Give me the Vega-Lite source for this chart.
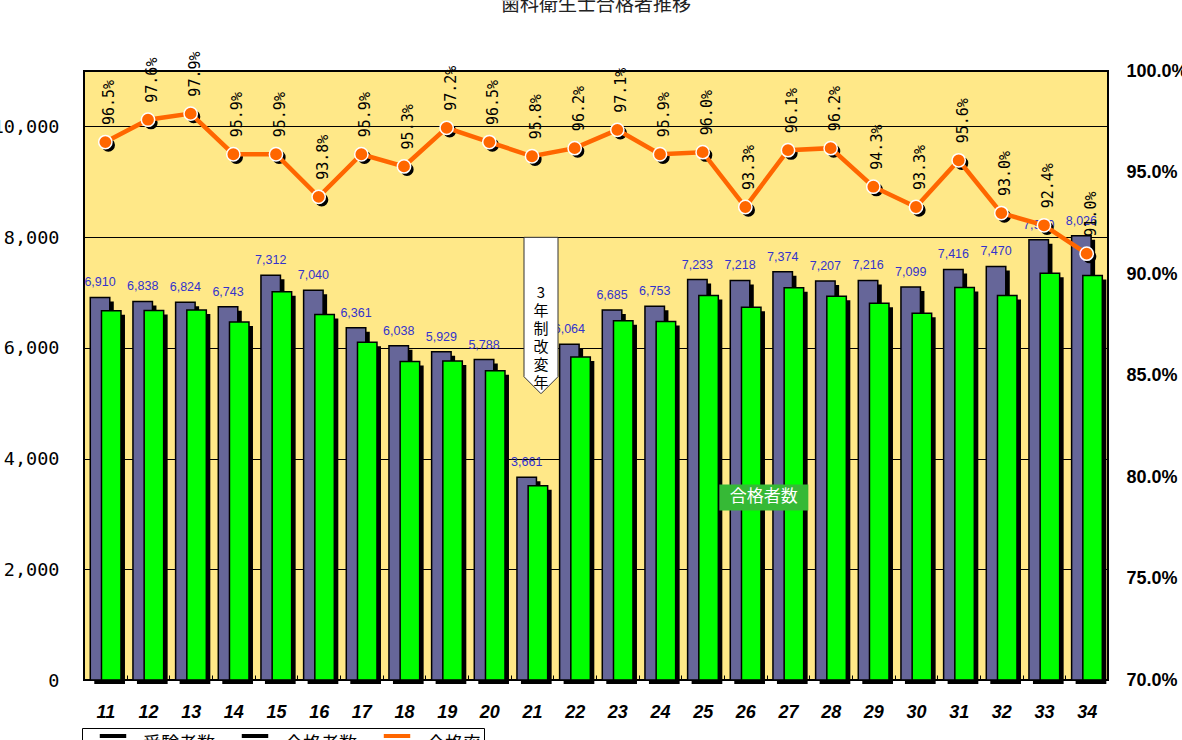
{
  "$schema": "https://vega.github.io/schema/vega-lite/v6.json",
  "width": 1024,
  "height": 609,
  "autosize": {"type": "none"},
  "padding": {"left": 84, "top": 71, "right": 74, "bottom": 60},
  "background": "white",
  "title": {
    "text": "歯科衛生士合格者推移",
    "font": "Noto Sans CJK JP",
    "fontSize": 19,
    "fontWeight": "normal",
    "color": "#222222",
    "anchor": "middle",
    "frame": "group",
    "offset": 36
  },
  "datasets": {
    "exams": [
      {"year": "11", "exam": 6910, "pass": 6668, "rate": 0.965},
      {"year": "12", "exam": 6838, "pass": 6674, "rate": 0.976},
      {"year": "13", "exam": 6824, "pass": 6681, "rate": 0.979},
      {"year": "14", "exam": 6743, "pass": 6467, "rate": 0.959},
      {"year": "15", "exam": 7312, "pass": 7012, "rate": 0.959},
      {"year": "16", "exam": 7040, "pass": 6604, "rate": 0.938},
      {"year": "17", "exam": 6361, "pass": 6100, "rate": 0.959},
      {"year": "18", "exam": 6038, "pass": 5754, "rate": 0.953},
      {"year": "19", "exam": 5929, "pass": 5763, "rate": 0.972},
      {"year": "20", "exam": 5788, "pass": 5585, "rate": 0.965},
      {"year": "21", "exam": 3661, "pass": 3507, "rate": 0.958},
      {"year": "22", "exam": 6064, "pass": 5834, "rate": 0.962},
      {"year": "23", "exam": 6685, "pass": 6491, "rate": 0.971},
      {"year": "24", "exam": 6753, "pass": 6476, "rate": 0.959},
      {"year": "25", "exam": 7233, "pass": 6944, "rate": 0.960},
      {"year": "26", "exam": 7218, "pass": 6734, "rate": 0.933},
      {"year": "27", "exam": 7374, "pass": 7086, "rate": 0.961},
      {"year": "28", "exam": 7207, "pass": 6933, "rate": 0.962},
      {"year": "29", "exam": 7216, "pass": 6805, "rate": 0.943},
      {"year": "30", "exam": 7099, "pass": 6623, "rate": 0.933},
      {"year": "31", "exam": 7416, "pass": 7090, "rate": 0.956},
      {"year": "32", "exam": 7470, "pass": 6947, "rate": 0.930},
      {"year": "33", "exam": 7950, "pass": 7346, "rate": 0.924},
      {"year": "34", "exam": 8026, "pass": 7304, "rate": 0.910}
    ],
    "legend": [
      {"series": "受験者数"},
      {"series": "合格者数"},
      {"series": "合格率"}
    ]
  },
  "data": {"name": "exams"},
  "encoding": {
    "x": {
      "field": "year",
      "type": "ordinal",
      "sort": null,
      "scale": {"paddingInner": 0, "paddingOuter": 0},
      "axis": {
        "title": null,
        "labelAngle": 0,
        "labelFont": "Liberation Sans",
        "labelFontWeight": "bold",
        "labelFontStyle": "italic",
        "labelFontSize": 18,
        "labelPadding": 28,
        "labelColor": "black",
        "tickBand": "extent",
        "tickSize": -5,
        "tickColor": "black",
        "domain": false
      }
    }
  },
  "layer": [
    {
      "layer": [
        {
          "mark": {"type": "bar", "color": "black", "width": 19.5, "xOffset": -1.3, "yOffset": 4, "y2Offset": -4},
          "encoding": {
            "y": {
              "field": "exam",
              "type": "quantitative",
              "title": null,
              "scale": {"domain": [0, 11000], "nice": false},
              "axis": {
                "values": [0, 2000, 4000, 6000, 8000, 10000],
                "format": ",d",
                "labelFont": "DejaVu Sans Mono",
                "labelFontSize": 18.5,
                "labelColor": "black",
                "labelPadding": 25,
                "ticks": false,
                "domain": false,
                "grid": true,
                "gridColor": "black",
                "gridWidth": 1,
                "gridOpacity": 1
              }
            }
          }
        },
        {
          "mark": {"type": "bar", "fill": "#666699", "stroke": "black", "strokeWidth": 1.5, "width": 19.5, "xOffset": -5.3},
          "encoding": {"y": {"field": "exam", "type": "quantitative", "title": null}}
        },
        {
          "mark": {"type": "bar", "color": "black", "width": 19.5, "xOffset": 9.9, "yOffset": 4, "y2Offset": -4},
          "encoding": {"y": {"field": "pass", "type": "quantitative", "title": null}}
        },
        {
          "mark": {"type": "bar", "fill": "#00FF00", "stroke": "black", "strokeWidth": 1.5, "width": 19.5, "xOffset": 5.9},
          "encoding": {"y": {"field": "pass", "type": "quantitative", "title": null}}
        },
        {
          "mark": {"type": "text", "font": "Liberation Sans", "fontSize": 12.5, "color": "#3333CC", "baseline": "alphabetic", "dy": -11, "xOffset": -5.3},
          "encoding": {
            "y": {"field": "exam", "type": "quantitative", "title": null},
            "text": {"field": "exam", "type": "quantitative", "format": ","}
          }
        },
        {
          "transform": [{"filter": "datum.year == '21'"}],
          "mark": {"type": "point", "shape": "M0,0L-1,-1L-1,-9.2L1,-9.2L1,-1Z", "size": 1156, "filled": true, "fill": "white", "stroke": "#333333", "strokeWidth": 1, "opacity": 1, "xOffset": 9},
          "encoding": {"y": {"datum": 5171, "type": "quantitative", "title": null}}
        },
        {
          "transform": [{"filter": "datum.year == '21'"}],
          "mark": {"type": "text", "font": "Noto Sans CJK JP", "fontSize": 15, "lineHeight": 18, "lineBreak": "\n", "color": "black", "baseline": "middle", "align": "center", "xOffset": 9},
          "encoding": {
            "y": {"datum": 6991, "type": "quantitative", "title": null},
            "text": {"value": "3\n年\n制\n改\n変\n年"}
          }
        },
        {
          "transform": [{"filter": "datum.year == '26'"}],
          "mark": {"type": "point", "shape": "M-1,-0.292L1,-0.292L1,0.292L-1,0.292Z", "size": 7921, "filled": true, "fill": "#36B936", "strokeWidth": 0, "opacity": 1, "xOffset": 18.5},
          "encoding": {"y": {"datum": 3297, "type": "quantitative", "title": null}}
        },
        {
          "transform": [{"filter": "datum.year == '26'"}],
          "mark": {"type": "text", "font": "Noto Sans CJK JP", "fontSize": 17, "color": "white", "baseline": "middle", "align": "center", "xOffset": 18.5},
          "encoding": {
            "y": {"datum": 3297, "type": "quantitative", "title": null},
            "text": {"value": "合格者数"}
          }
        },
        {
          "data": {"name": "legend"},
          "mark": {"type": "point", "filled": true, "opacity": 0},
          "encoding": {
            "x": {"value": 0},
            "y": {"value": 0},
            "color": {
              "field": "series",
              "type": "nominal",
              "scale": {"domain": ["受験者数", "合格者数", "合格率"], "range": ["black", "black", "#FF6600"]},
              "legend": {
                "orient": "none",
                "legendX": -2,
                "legendY": 657,
                "direction": "horizontal",
                "title": null,
                "symbolType": "M-1,-0.15L1,-0.15L1,0.15L-1,0.15Z",
                "symbolSize": 700,
                "symbolOffset": 14,
                "labelOffset": 16,
                "labelFont": "Noto Sans CJK JP",
                "labelFontSize": 18,
                "labelColor": "black",
                "strokeColor": "black",
                "fillColor": "white",
                "padding": 3,
                "columnPadding": 12,
                "encode": {
                  "symbols": {
                    "update": {
                      "y": {"value": 5},
                      "opacity": {"value": 1},
                      "fillOpacity": {"value": 1}
                    }
                  }
                }
              }
            }
          }
        }
      ]
    },
    {
      "encoding": {
        "y": {
          "field": "rate",
          "type": "quantitative",
          "title": null,
          "scale": {"domain": [0.7, 1.0], "nice": false, "zero": false},
          "axis": {
            "orient": "right",
            "values": [0.7, 0.75, 0.8, 0.85, 0.9, 0.95, 1.0],
            "format": ".1%",
            "labelFont": "Liberation Sans",
            "labelFontWeight": "bold",
            "labelFontSize": 18,
            "labelColor": "black",
            "labelPadding": 18,
            "ticks": false,
            "domain": false,
            "grid": false
          }
        }
      },
      "layer": [
        {
          "mark": {"type": "circle", "color": "black", "size": 177, "opacity": 1, "xOffset": 3, "yOffset": 3}
        },
        {
          "mark": {"type": "line", "color": "#FF6600", "strokeWidth": 4.5}
        },
        {
          "mark": {"type": "circle", "fill": "#FF6600", "stroke": "white", "strokeWidth": 1.5, "size": 177, "opacity": 1}
        },
        {
          "mark": {"type": "text", "angle": 270, "align": "left", "baseline": "middle", "dx": 17, "dy": 4, "font": "DejaVu Sans Mono", "fontSize": 15, "color": "black"},
          "encoding": {"text": {"field": "rate", "type": "quantitative", "format": ".1%"}}
        }
      ]
    }
  ],
  "resolve": {"scale": {"y": "independent"}, "axis": {"y": "independent"}},
  "config": {
    "view": {"fill": "#FFE888", "stroke": "black", "strokeWidth": 2},
    "axis": {"labelColor": "black"}
  }
}
